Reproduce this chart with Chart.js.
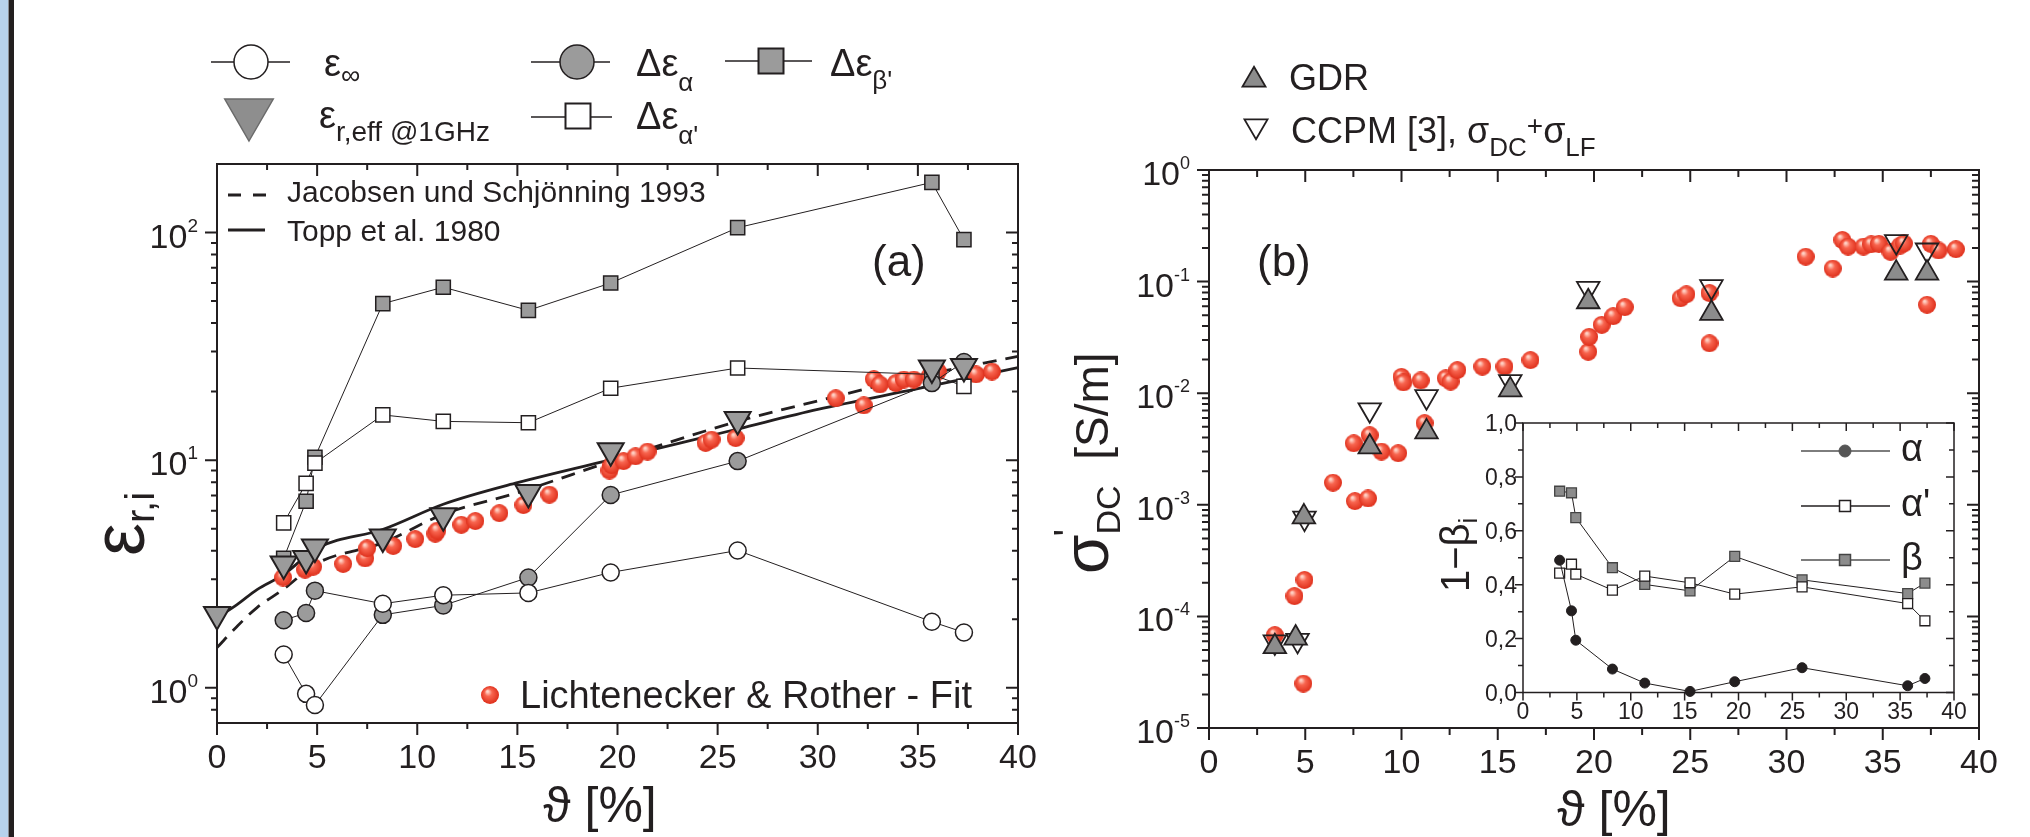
<!DOCTYPE html>
<html>
<head>
<meta charset="utf-8">
<script src="https://cdn.jsdelivr.net/npm/chart.js@4.4.1/dist/chart.umd.min.js"></script>
<style>
  html, body { margin: 0; padding: 0; background: #fff; }
  #page { position: relative; width: 2030px; height: 837px; overflow: hidden; background: #fff; }
  #page canvas { position: absolute; }
  #edge { position: absolute; left: 0; top: 0; width: 14px; height: 837px;
          background: linear-gradient(to right, #b7d2ec 0 8px, #8a8f96 8px 9px, #231f20 9px 14px); }
</style>
</head>
<body>
<div id="page">
  <canvas id="chartA" width="1040" height="837" style="left:0;top:0"></canvas>
  <canvas id="chartB" width="990" height="837" style="left:1040px;top:0"></canvas>
  <canvas id="chartC" width="600" height="450" style="left:1400px;top:380px"></canvas>
  <div id="edge"></div>
</div>
<script>
// ---------- (a) Permittivitaet ueber Wassergehalt ----------
const theta      = [3.33, 4.45, 4.89, 8.28, 11.3, 15.55, 19.66, 26.0, 35.7, 37.3];
const epsInf     = [1.40, 0.94, 0.84, 2.34, 2.55, 2.61, 3.21, 4.01, 1.95, 1.75];
const dEpsAlpha  = [1.98, 2.13, 2.67, 2.09, 2.30, 3.05, 7.03, 9.9, 21.8, 27.0];
const dEpsAlphaP = [5.3, 7.9, 9.7, 15.8, 14.8, 14.6, 20.7, 25.4, 23.8, 21.1];
const dEpsBetaP  = [3.7, 6.6, 10.3, 48.7, 57.5, 45.5, 60, 105, 166, 93];

const thetaEff = [0, 3.33, 4.45, 4.89, 8.28, 11.3, 15.55, 19.66, 26.0, 35.7, 37.3];
const epsEff   = [2.1, 3.5, 3.7, 4.15, 4.6, 5.7, 7.2, 11.0, 15.1, 25.4, 25.8];

const thetaFit = [3.3, 4.4, 4.8, 6.3, 7.4, 7.5, 8.8, 9.9, 10.9, 11.0, 12.2, 12.9, 14.1, 15.3, 16.6,
                  19.6, 19.7, 20.3, 20.9, 21.5, 24.4, 24.7, 25.9, 30.9, 32.3, 32.8, 33.1, 33.9,
                  34.3, 34.8, 35.6, 36.0, 37.9, 38.7];
const epsFit   = [3.05, 3.3, 3.4, 3.5, 3.7, 4.1, 4.2, 4.5, 4.75, 4.9, 5.2, 5.4, 5.85, 6.35, 7.05,
                  9.0, 9.5, 9.9, 10.4, 10.9, 11.9, 12.3, 12.5, 18.7, 17.4, 22.7, 21.5, 21.8,
                  22.6, 22.6, 23.5, 24.5, 23.8, 24.5];

const thetaCurve  = [0, 1, 2, 3.3, 5, 8.3, 11.3, 15, 20, 26, 30, 35, 40];
const epsTopp     = [2.03, 2.32, 2.7, 3.13, 4.1, 4.97, 6.4, 7.96, 10.2, 13.7, 16.7, 20.6, 25.5];
const epsJacobsen = [1.5, 1.86, 2.25, 2.7, 3.52, 4.34, 5.78, 7.19, 10.1, 14.8, 18.2, 23.3, 28.6];

// ---------- (b) DC-Leitfaehigkeit ----------
const thetaGDR  = [3.42, 4.5, 4.93, 8.35, 11.3, 15.65, 19.7, 26.1, 35.7, 37.3];
const sigmaGDR  = [5.35e-5, 6.4e-5, 7.8e-4, 3.3e-3, 4.5e-3, 1.07e-2, 6.6e-2, 5.2e-2, 0.119, 0.119];
const thetaCCPM = [3.42, 4.6, 4.96, 8.35, 11.3, 15.65, 19.7, 26.1, 35.7, 37.3];
const sigmaCCPM = [5.9e-5, 6.1e-5, 7.6e-4, 7.1e-3, 9.3e-3, 1.27e-2, 8.7e-2, 9.0e-2, 0.228, 0.192];

const thetaFitB = [3.42, 4.44, 4.90, 4.96, 6.44, 7.52, 7.58, 8.26, 8.35, 8.96, 9.83, 10.0, 10.1, 11.0,
                   11.2, 12.3, 12.55, 12.9, 14.2, 15.35, 16.7, 19.7, 19.75, 20.4, 21.0, 21.6, 24.5,
                   24.8, 26.0, 26.0, 31.0, 32.4, 32.9, 33.2, 34.0, 34.4, 34.8, 35.4, 35.9, 36.1,
                   37.3, 37.5, 37.9, 38.8];
const sigmaFit  = [6.8e-5, 1.52e-4, 2.5e-5, 2.12e-4, 1.58e-3, 3.56e-3, 1.08e-3, 1.14e-3, 4.2e-3, 3.0e-3,
                   2.9e-3, 1.4e-2, 1.25e-2, 1.3e-2, 5.4e-3, 1.36e-2, 1.27e-2, 1.61e-2, 1.73e-2, 1.73e-2,
                   1.98e-2, 2.35e-2, 3.2e-2, 4.1e-2, 4.9e-2, 5.9e-2, 7.1e-2, 7.7e-2, 7.9e-2, 2.8e-2,
                   0.167, 0.131, 0.236, 0.206, 0.206, 0.216, 0.218, 0.185, 0.21, 0.22,
                   6.2e-2, 0.218, 0.19, 0.195];

// ---------- Inset 1-beta_i ----------
const thetaInset = [3.4, 4.5, 4.9, 8.3, 11.3, 15.5, 19.65, 25.9, 35.7, 37.3];
const alpha  = [0.491, 0.303, 0.194, 0.087, 0.035, 0.004, 0.040, 0.092, 0.025, 0.052];
const alphaP = [0.443, 0.476, 0.439, 0.380, 0.432, 0.407, 0.365, 0.392, 0.330, 0.266];
const beta   = [0.747, 0.741, 0.649, 0.463, 0.401, 0.377, 0.505, 0.418, 0.367, 0.406];

// ---------- Achsenbeschriftung ----------
const thetaTicks   = [0, 5, 10, 15, 20, 25, 30, 35, 40];
const epsExp       = [0, 1, 2];
const sigmaExp     = [-5, -4, -3, -2, -1, 0];
const insetYTicks  = [0, 0.2, 0.4, 0.6, 0.8, 1.0];
const insetYLabels = ['0,0', '0,2', '0,4', '0,6', '0,8', '1,0'];

const FONT = '"Liberation Sans", Arial, Helvetica, sans-serif';
const INK = '#231f20';
const GRAY = '#9b9b9b';

const pts = (xs, ys) => xs.map((x, i) => ({ x, y: ys[i] }));
const halfSteps = t => t.slice(1).map((v, i) => (v + t[i]) / 2);
function logMinors(min, max) {
  const out = [];
  for (let e = Math.floor(Math.log10(min)); e <= Math.ceil(Math.log10(max)); e++)
    for (let m = 2; m <= 9; m++) {
      const v = m * Math.pow(10, e);
      if (v > min * 1.0001 && v < max * 0.9999) out.push(v);
    }
  return out;
}

function txt(ctx, s, x, y, size, align) {
  ctx.font = size + 'px ' + FONT;
  ctx.textAlign = align || 'left';
  ctx.fillText(s, x, y);
  return ctx.measureText(s).width;
}
// parts: [text, size, dy]
function rich(ctx, x, y, parts) {
  ctx.textAlign = 'left';
  for (const [s, size, dy] of parts) {
    ctx.font = size + 'px ' + FONT;
    ctx.fillText(s, x, y + (dy || 0));
    x += ctx.measureText(s).width;
  }
  return x;
}
function powLabel(ctx, right, base, exp, size, supSize) {
  const sup = String(exp);
  ctx.textAlign = 'left';
  ctx.font = supSize + 'px ' + FONT;
  const ws = ctx.measureText(sup).width;
  ctx.fillText(sup, right - ws, base - 16);
  ctx.font = size + 'px ' + FONT;
  const wb = ctx.measureText('10').width;
  ctx.fillText('10', right - ws - wb, base);
}
function marker(ctx, kind, x, y, r, fill, stroke, lw) {
  ctx.save();
  ctx.beginPath();
  if (kind === 'circle') ctx.arc(x, y, r, 0, Math.PI * 2);
  else if (kind === 'square') ctx.rect(x - r, y - r, 2 * r, 2 * r);
  else {
    const s = kind === 'down' ? -1 : 1;
    ctx.moveTo(x, y - s * r);
    ctx.lineTo(x + r * 0.866, y + s * r / 2);
    ctx.lineTo(x - r * 0.866, y + s * r / 2);
    ctx.closePath();
  }
  if (fill) { ctx.fillStyle = fill; ctx.fill(); }
  if (stroke) { ctx.strokeStyle = stroke; ctx.lineWidth = lw; ctx.stroke(); }
  ctx.restore();
}
function hline(ctx, x1, x2, y, color, lw, dash) {
  ctx.save();
  ctx.strokeStyle = color; ctx.lineWidth = lw;
  if (dash) ctx.setLineDash(dash);
  ctx.beginPath(); ctx.moveTo(x1, y); ctx.lineTo(x2, y); ctx.stroke();
  ctx.restore();
}

// Rahmen mit Ticks: unten/links nach aussen, oben/rechts nach innen
function drawFrame(chart, t) {
  const { ctx, chartArea: a, scales: { x, y } } = chart;
  ctx.save();
  ctx.strokeStyle = INK;
  ctx.lineWidth = t.lw;
  ctx.strokeRect(a.left, a.top, a.right - a.left, a.bottom - a.top);
  ctx.beginPath();
  const xt = (v, len) => {
    const p = x.getPixelForValue(v);
    ctx.moveTo(p, a.bottom); ctx.lineTo(p, a.bottom + len);
    ctx.moveTo(p, a.top); ctx.lineTo(p, a.top + len);
  };
  const yt = (v, len) => {
    const p = y.getPixelForValue(v);
    ctx.moveTo(a.left - len, p); ctx.lineTo(a.left, p);
    ctx.moveTo(a.right, p); ctx.lineTo(a.right - len, p);
  };
  t.xMajor.forEach(v => xt(v, t.major));
  t.xMinor.forEach(v => xt(v, t.minor));
  t.yMajor.forEach(v => yt(v, t.major));
  t.yMinor.forEach(v => yt(v, t.minor));
  ctx.stroke();
  ctx.restore();
}

function makeBall(d) {
  const c = document.createElement('canvas');
  c.width = d; c.height = d;
  const g = c.getContext('2d');
  const grad = g.createRadialGradient(d * 0.36, d * 0.3, d * 0.04, d * 0.5, d * 0.5, d * 0.52);
  grad.addColorStop(0, '#ffd6ca');
  grad.addColorStop(0.35, '#f8654f');
  grad.addColorStop(1, '#dd2c18');
  g.fillStyle = grad;
  g.beginPath(); g.arc(d / 2, d / 2, d / 2, 0, Math.PI * 2); g.fill();
  return c;
}
const ball = makeBall(18);

function markers(data, style, r, fill, extra) {
  return Object.assign({
    data, showLine: false, clip: false, pointStyle: style, pointRadius: r,
    pointBackgroundColor: fill, pointBorderColor: INK, pointBorderWidth: 1.5,
    borderColor: INK, borderWidth: 1, tension: 0
  }, extra || {});
}
function path(data, extra) {
  return Object.assign({
    data, showLine: true, clip: false, pointRadius: 0,
    borderColor: INK, borderWidth: 1, tension: 0
  }, extra || {});
}
function baseOptions(pad, xr, yr, ylog) {
  return {
    responsive: false, animation: false, devicePixelRatio: 1, events: [],
    layout: { padding: pad },
    plugins: { legend: { display: false }, tooltip: { enabled: false } },
    scales: {
      x: { type: 'linear', display: false, min: xr[0], max: xr[1] },
      y: { type: ylog ? 'logarithmic' : 'linear', display: false, min: yr[0], max: yr[1] }
    }
  };
}

// ================= Panel (a) =================
const pathA = pts(theta, epsInf.slice(0, 3).concat(dEpsAlpha.slice(3)));
const pathB = pts(theta, dEpsAlpha.slice(0, 3).concat(epsInf.slice(3)));

const axesA = {
  id: 'axesA',
  beforeDatasetsDraw(chart) {
    drawFrame(chart, {
      xMajor: thetaTicks, xMinor: halfSteps(thetaTicks),
      yMajor: epsExp.map(e => Math.pow(10, e)), yMinor: logMinors(0.7, 200),
      major: 12, minor: 6, lw: 2
    });
    const { ctx, chartArea: a, scales: { x, y } } = chart;
    ctx.fillStyle = INK;
    thetaTicks.forEach(v => txt(ctx, String(v), x.getPixelForValue(v), a.bottom + 45, 34, 'center'));
    epsExp.forEach(e => powLabel(ctx, a.left - 19, y.getPixelForValue(Math.pow(10, e)) + 15, e, 34, 19));
  },
  afterDatasetsDraw(chart) {
    const ctx = chart.ctx;
    ctx.save();
    ctx.fillStyle = INK;
    // Legende oben
    hline(ctx, 211, 290, 62, INK, 1.5);
    marker(ctx, 'circle', 251, 62, 17, '#fff', INK, 1.5);
    rich(ctx, 324, 76, [['ε', 38, 0], ['∞', 27, 8]]);
    hline(ctx, 531, 610, 62, INK, 1.5);
    marker(ctx, 'circle', 577, 62, 17, GRAY, INK, 1.5);
    rich(ctx, 636, 76, [['Δε', 38, 0], ['α', 26, 15]]);
    hline(ctx, 725, 812, 61, INK, 1.5);
    marker(ctx, 'square', 771, 61, 12.5, GRAY, INK, 2);
    rich(ctx, 830, 76, [['Δε', 38, 0], ["β'", 26, 13]]);
    marker(ctx, 'down', 249, 113, 28, '#8e8e8e', '#6a6a6a', 1.5);
    rich(ctx, 319, 128, [['ε', 38, 0], ['r,eff @1GHz', 28, 13]]);
    hline(ctx, 531, 612, 117, INK, 1.5);
    marker(ctx, 'square', 578, 116, 12.5, '#fff', INK, 2);
    rich(ctx, 636, 129, [['Δε', 38, 0], ["α'", 26, 15]]);
    // Legende innen
    hline(ctx, 228, 268, 195, INK, 2.8, [13, 12]);
    txt(ctx, 'Jacobsen und Schjönning 1993', 287, 202, 30);
    hline(ctx, 228, 265, 230, INK, 2.8);
    txt(ctx, 'Topp et al. 1980', 287, 241, 30);
    txt(ctx, '(a)', 872, 276, 44);
    ctx.drawImage(ball, 490 - 9, 695 - 9);
    txt(ctx, 'Lichtenecker & Rother - Fit', 520, 708, 38);
    // Achsentitel
    txt(ctx, 'ϑ [%]', 600, 822, 50, 'center');
    ctx.translate(144, 556);
    ctx.rotate(-Math.PI / 2);
    rich(ctx, 0, 0, [['ε', 74, 0], ['r,i', 40, 10]]);
    ctx.restore();
  }
};

new Chart(document.getElementById('chartA'), {
  type: 'scatter',
  data: {
    datasets: [
      markers(pts(thetaEff, epsEff), 'triangle', 15, GRAY, { pointRotation: 180, pointBorderWidth: 2 }),
      markers(pts(theta, epsInf), 'circle', 8.5, '#fff'),
      markers(pts(theta, dEpsAlpha), 'circle', 8.5, GRAY),
      markers(pts(theta, dEpsAlphaP), 'rect', 10, '#fff', { showLine: true }),
      markers(pts(theta, dEpsBetaP), 'rect', 10, GRAY, { showLine: true }),
      path(pathA),
      path(pathB),
      markers(pts(thetaFit, epsFit), ball, 9, '#f04a36', { pointBorderWidth: 0 }),
      path(pts(thetaCurve, epsTopp), { borderWidth: 2.8, cubicInterpolationMode: 'monotone' }),
      path(pts(thetaCurve, epsJacobsen), { borderWidth: 2.8, borderDash: [14, 9], cubicInterpolationMode: 'monotone' })
    ]
  },
  options: baseOptions({ left: 217, right: 22, top: 164, bottom: 114 }, [0, 40], [0.7, 200], true),
  plugins: [axesA]
});

// ================= Panel (b) =================
const OXB = 1040;
const axesB = {
  id: 'axesB',
  beforeDatasetsDraw(chart) {
    drawFrame(chart, {
      xMajor: thetaTicks, xMinor: halfSteps(thetaTicks),
      yMajor: sigmaExp.map(e => Math.pow(10, e)), yMinor: logMinors(1e-5, 1),
      major: 12, minor: 7, lw: 2
    });
    const { ctx, chartArea: a, scales: { x, y } } = chart;
    ctx.fillStyle = INK;
    thetaTicks.forEach(v => txt(ctx, String(v), x.getPixelForValue(v), a.bottom + 45, 34, 'center'));
    sigmaExp.forEach(e => powLabel(ctx, a.left - 19, y.getPixelForValue(Math.pow(10, e)) + 15, e, 34, 18));
  },
  afterDatasetsDraw(chart) {
    const ctx = chart.ctx;
    ctx.save();
    ctx.translate(-OXB, 0);
    ctx.fillStyle = INK;
    marker(ctx, 'up', 1254, 80, 13.3, '#8c8c8c', INK, 1.8);
    txt(ctx, 'GDR', 1289, 90, 36);
    marker(ctx, 'down', 1256, 126, 13.3, '#fff', INK, 1.8);
    ctx.fillStyle = INK;
    rich(ctx, 1291, 143, [['CCPM [3], σ', 36, 0], ['DC', 26, 13], ['+', 28, -8], ['σ', 36, 0], ['LF', 26, 13]]);
    txt(ctx, '(b)', 1257, 276, 44);
    txt(ctx, 'ϑ [%]', 1614, 826, 50, 'center');
    // y-Titel
    ctx.translate(1108, 574);
    ctx.rotate(-Math.PI / 2);
    ctx.font = '64px ' + FONT;
    ctx.textAlign = 'left';
    ctx.fillText('σ', 0, 0);
    let px = ctx.measureText('σ').width;
    ctx.font = '40px ' + FONT;
    ctx.fillText("'", px - 2, -26);
    ctx.font = '34px ' + FONT;
    ctx.fillText('DC', px, 12);
    px += ctx.measureText('DC').width;
    txt(ctx, '  [S/m]', px, 0, 46);
    ctx.restore();
  }
};

new Chart(document.getElementById('chartB'), {
  type: 'scatter',
  data: {
    datasets: [
      markers(pts(thetaGDR, sigmaGDR), 'triangle', 13, '#8c8c8c', { pointBorderWidth: 1.8 }),
      markers(pts(thetaCCPM, sigmaCCPM), 'triangle', 13, 'rgba(255,255,255,0)', { pointRotation: 180, pointBorderWidth: 1.8 }),
      markers(pts(thetaFitB, sigmaFit), ball, 9, '#f04a36', { pointBorderWidth: 0 })
    ]
  },
  options: baseOptions({ left: 169, right: 51, top: 170, bottom: 109 }, [0, 40], [1e-5, 1], true),
  plugins: [axesB]
});

// ================= Inset =================
const OXC = 1400, OYC = 380;
const axesC = {
  id: 'axesC',
  beforeDatasetsDraw(chart) {
    const { ctx, chartArea: a, scales: { x, y } } = chart;
    ctx.save();
    ctx.fillStyle = '#fff';
    ctx.fillRect(a.left, a.top, a.right - a.left, a.bottom - a.top);
    ctx.restore();
    drawFrame(chart, {
      xMajor: thetaTicks, xMinor: halfSteps(thetaTicks),
      yMajor: insetYTicks, yMinor: halfSteps(insetYTicks),
      major: 8, minor: 5, lw: 1.5
    });
    ctx.fillStyle = INK;
    thetaTicks.forEach(v => txt(ctx, String(v), x.getPixelForValue(v), a.bottom + 26, 23, 'center'));
    insetYTicks.forEach((v, i) => txt(ctx, insetYLabels[i], a.left - 6, y.getPixelForValue(v) + 8, 23, 'right'));
  },
  afterDatasetsDraw(chart) {
    const ctx = chart.ctx;
    ctx.save();
    ctx.translate(-OXC, -OYC);
    ctx.fillStyle = INK;
    const ly = [451, 506, 560];
    hline(ctx, 1801, 1890, ly[0], '#7d7d7d', 2);
    marker(ctx, 'circle', 1845, ly[0], 6, '#555', '#555', 1);
    hline(ctx, 1801, 1890, ly[1], INK, 1.5);
    marker(ctx, 'square', 1845, ly[1], 5.5, '#fff', INK, 1.5);
    hline(ctx, 1801, 1890, ly[2], '#7d7d7d', 2);
    marker(ctx, 'square', 1845, ly[2], 5.5, '#8c8c8c', '#444', 1.5);
    ctx.fillStyle = INK;
    txt(ctx, 'α', 1901, ly[0] + 10, 38);
    txt(ctx, "α'", 1901, ly[1] + 10, 38);
    txt(ctx, 'β', 1901, ly[2] + 10, 38);
    ctx.translate(1469, 592);
    ctx.rotate(-Math.PI / 2);
    rich(ctx, 0, 0, [['1−β', 40, 0], ['i', 26, 8]]);
    ctx.restore();
  }
};

new Chart(document.getElementById('chartC'), {
  type: 'scatter',
  data: {
    datasets: [
      markers(pts(thetaInset, alpha), 'circle', 5, INK, { showLine: true, pointBorderWidth: 1 }),
      markers(pts(thetaInset, alphaP), 'rect', 7, '#fff', { showLine: true, pointBorderWidth: 1.3 }),
      markers(pts(thetaInset, beta), 'rect', 7, '#8c8c8c', { showLine: true, pointBorderWidth: 1.3, pointBorderColor: '#444' })
    ]
  },
  options: baseOptions({ left: 123, right: 46, top: 43, bottom: 137.5 }, [0, 40], [0, 1], false),
  plugins: [axesC]
});
</script>
</body>
</html>
